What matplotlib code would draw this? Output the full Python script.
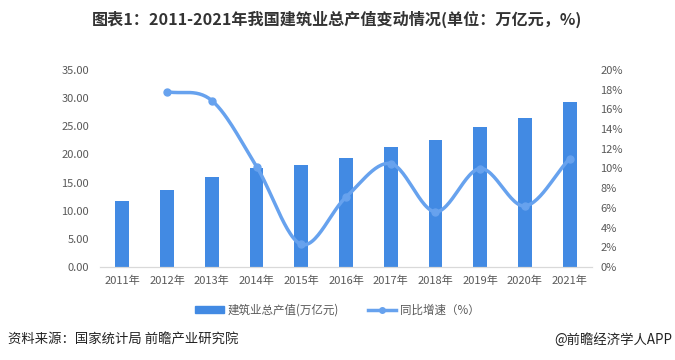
import numpy as np
import matplotlib.pyplot as plt
from matplotlib.lines import Line2D
from matplotlib.patches import Patch

plt.rcParams['font.family'] = ['Noto Sans CJK SC', 'DejaVu Sans']

years = ['2011年', '2012年', '2013年', '2014年', '2015年', '2016年',
         '2017年', '2018年', '2019年', '2020年', '2021年']
output_value = [11.65, 13.72, 16.04, 17.67, 18.08, 19.36, 21.39, 22.58, 24.84, 26.39, 29.31]
# growth rate (%), no value for 2011
growth = [None, 17.8, 16.9, 10.2, 2.3, 7.1, 10.5, 5.6, 10.0, 6.2, 11.0]

bar_color = '#428ae3'
line_color = '#67a2ee'
text_gray = '#595959'


def smooth(x, y, n=30):
    # catmull-rom style smoothing like the excel "smoothed line"
    x = np.asarray(x, float)
    y = np.asarray(y, float)
    px = np.concatenate([[2 * x[0] - x[1]], x, [2 * x[-1] - x[-2]]])
    py = np.concatenate([[2 * y[0] - y[1]], y, [2 * y[-1] - y[-2]]])
    xs, ys = [], []
    t = np.linspace(0, 1, n)
    for i in range(1, len(px) - 2):
        for p, out in ((px, xs), (py, ys)):
            p0, p1, p2, p3 = p[i - 1], p[i], p[i + 1], p[i + 2]
            out.extend(0.5 * ((2 * p1) + (-p0 + p2) * t
                              + (2 * p0 - 5 * p1 + 4 * p2 - p3) * t ** 2
                              + (-p0 + 3 * p1 - 3 * p2 + p3) * t ** 3))
    return np.array(xs), np.array(ys)


fig = plt.figure(figsize=(6.75, 3.6), dpi=100)
ax = fig.add_axes([100 / 675, 1 - 267 / 360, 492 / 675, 197 / 360])
ax2 = ax.twinx()

x = np.arange(len(years))
ax.bar(x, output_value, width=0.31, color=bar_color, zorder=2)
ax.set_xlim(-0.5, len(years) - 0.5)
ax.set_ylim(0, 35)
ax.set_yticks(np.arange(0, 35.1, 5))
ax.set_yticklabels([f'{v:.2f}' for v in np.arange(0, 35.1, 5)])
ax.set_xticks(x)
ax.set_xticklabels(years)

gx = [i for i, g in enumerate(growth) if g is not None]
gy = [g for g in growth if g is not None]
sx, sy = smooth(gx, gy)
ax2.plot(sx, sy, color=line_color, lw=2.5, zorder=3, solid_capstyle='round')
ax2.plot(gx, gy, 'o', color=line_color, ms=5, zorder=4)
ax2.set_ylim(0, 20)
ax2.set_yticks(np.arange(0, 21, 2))
ax2.set_yticklabels([f'{v}%' for v in range(0, 21, 2)])

for a in (ax, ax2):
    for s in ('top', 'left', 'right'):
        a.spines[s].set_visible(False)
    a.spines['bottom'].set_color('#d9d9d9')
    a.tick_params(length=0, labelsize=8, colors=text_gray)
ax.tick_params(axis='y', pad=8)
ax2.tick_params(axis='y', pad=6)
ax.tick_params(axis='x', pad=6)

fig.text(0.5, 0.945, '图表1：2011-2021年我国建筑业总产值变动情况(单位：万亿元，%)',
         ha='center', va='center', fontsize=11.6, fontweight='bold', color='#333333')

handles = [Patch(color=bar_color),
           Line2D([0], [0], color=line_color, lw=2.5, marker='o', ms=4)]
fig.legend(handles, ['建筑业总产值(万亿元)', '同比增速（%）'], loc='center',
           bbox_to_anchor=(0.5, 1 - 310 / 360), ncol=2, frameon=False,
           fontsize=8.3, handlelength=2.5, handleheight=0.5, columnspacing=2.5,
           labelcolor=text_gray, handletextpad=0.3)

fig.text(8 / 675, 1 - 340 / 360, '资料来源：国家统计局 前瞻产业研究院',
         ha='left', va='center', fontsize=9.6, color='#222222')
fig.text(672 / 675, 1 - 340 / 360, '@前瞻经济学人APP',
         ha='right', va='center', fontsize=9.6, color='#222222')

fig.savefig('out.png', dpi=100)
